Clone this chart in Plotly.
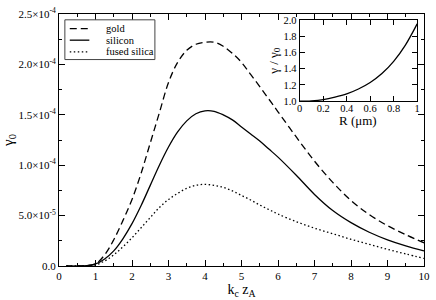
import plotly.graph_objects as go

# ---- data (gamma_0 in units of 1e-4) ----
kz = [0.2, 0.5, 0.75, 1, 1.25, 1.5, 1.75, 2, 2.25, 2.5, 2.75, 3, 3.25, 3.5, 3.75, 4,
      4.25, 4.5, 4.75, 5, 5.25, 5.5, 5.75, 6, 6.5, 7, 7.5, 8, 8.5, 9, 9.5, 10]
gold = [0, 0.0, 0.003, 0.02, 0.11, 0.26, 0.45, 0.66, 0.92, 1.22, 1.52, 1.82, 2.02, 2.14, 2.20, 2.22,
        2.22, 2.18, 2.11, 2.02, 1.90, 1.78, 1.655, 1.53, 1.28, 1.04, 0.83, 0.65, 0.51, 0.40, 0.31, 0.23]
silicon = [0, 0.0, 0.003, 0.02, 0.07, 0.15, 0.27, 0.42, 0.60, 0.80, 1.00, 1.18, 1.33, 1.44, 1.51, 1.54,
           1.535, 1.50, 1.45, 1.38, 1.31, 1.24, 1.16, 1.08, 0.90, 0.71, 0.55, 0.43, 0.335, 0.26, 0.20, 0.15]
fused_silica = [0, 0.0, 0.002, 0.01, 0.05, 0.11, 0.19, 0.28, 0.38, 0.48, 0.58, 0.66, 0.72, 0.77, 0.80, 0.81,
                0.80, 0.78, 0.745, 0.70, 0.655, 0.605, 0.56, 0.515, 0.44, 0.375, 0.32, 0.265, 0.215, 0.165,
                0.12, 0.075]
SCALE = 1e-4

# inset data
R_um = [0, 0.1, 0.2, 0.3, 0.4, 0.5, 0.6, 0.7, 0.8, 0.9, 1.0]
ratio = [1.0, 1.005, 1.02, 1.05, 1.09, 1.15, 1.23, 1.34, 1.49, 1.69, 1.95]

y_tickvals = [0, 0.5, 1.0, 1.5, 2.0, 2.5]
y_ticktext = ["0.0", "5.0×10<sup>-5</sup>", "1.0×10<sup>-4</sup>", "1.5×10<sup>-4</sup>",
              "2.0×10<sup>-4</sup>", "2.5×10<sup>-4</sup>"]

series = [("gold", gold, "7px,4px"), ("silicon", silicon, "solid"), ("fused silica", fused_silica, "1.5px,2.5px")]

FONT = "Liberation Serif, Times New Roman, Times, serif"
W, H = 436, 300
L, R, T, B = 57, 6, 7, 33
PW, PH = W - L - R, H - T - B


def px(xp):
    return (xp - L) / PW


def py(yp):
    return (H - B - yp) / PH


fig = go.Figure()
for name, vals, dash in series:
    fig.add_trace(go.Scatter(x=kz, y=[v * SCALE for v in vals], mode="lines", name=name,
                             line=dict(color="black", width=1.3, dash=dash, shape="spline"),
                             showlegend=False))

fig.add_trace(go.Scatter(x=R_um, y=ratio, mode="lines", xaxis="x2", yaxis="y2",
                         line=dict(color="black", width=1.3, shape="spline"), showlegend=False))

axis_common = dict(showline=True, linecolor="black", linewidth=1, mirror="allticks",
                   ticks="inside", tickcolor="black", showgrid=False, zeroline=False,
                   tickfont=dict(family=FONT, size=11, color="black"))
inset_tickfont = dict(family=FONT, size=10.5, color="black")

fig.update_layout(
    width=W, height=H,
    margin=dict(l=L, r=R, t=T, b=B),
    paper_bgcolor="white", plot_bgcolor="white",
    font=dict(family=FONT, color="black"),
    xaxis=dict(range=[0, 10], tickmode="linear", tick0=0, dtick=1, ticklen=6,
               minor=dict(ticks="inside", ticklen=3, dtick=0.5, tickcolor="black"),
               title=dict(text="k<sub>c</sub> z<sub>A</sub>", font=dict(size=14, family=FONT), standoff=2),
               **axis_common),
    yaxis=dict(range=[0, 2.5 * SCALE], tickmode="array", tickvals=[v * SCALE for v in y_tickvals],
               ticktext=y_ticktext, ticklen=6,
               minor=dict(ticks="inside", ticklen=3, dtick=0.25 * SCALE, tick0=0, tickcolor="black"),
               title=dict(text="γ<sub>0</sub>", font=dict(size=15, family=FONT), standoff=2),
               **axis_common),
    xaxis2=dict(domain=[px(303), px(423)], anchor="y2", range=[0, 1], tickmode="linear", tick0=0,
                dtick=0.2, ticklen=5, ticklabelstandoff=-3,
                **{**axis_common, "tickfont": inset_tickfont}),
    yaxis2=dict(domain=[py(97), py(13)], anchor="x2", range=[1, 2], tickmode="linear", tick0=1,
                dtick=0.2, tickformat=".1f", ticklen=5,
                **{**axis_common, "tickfont": inset_tickfont}),
)

# inset axis titles placed close to the inset frame
fig.add_annotation(xref="paper", yref="paper", x=px(363), y=py(117), text="R (μm)", showarrow=False,
                   xanchor="center", yanchor="middle", borderpad=0,
                   font=dict(family=FONT, size=13, color="black"))
fig.add_annotation(xref="paper", yref="paper", x=px(277), y=py(55), text="γ / γ<sub>0</sub>",
                   showarrow=False, textangle=-90, xanchor="center", yanchor="middle", borderpad=0,
                   font=dict(family=FONT, size=13, color="black"))

# legend drawn as a boxed key
fig.add_shape(type="rect", xref="paper", yref="paper", x0=px(63), x1=px(155), y0=py(54), y1=py(13),
              line=dict(color="#444", width=1), fillcolor="white")
for i, (name, vals, dash) in enumerate(series):
    yy = 22 + 12 * i
    fig.add_shape(type="line", xref="paper", yref="paper", x0=px(68), x1=px(88), y0=py(yy), y1=py(yy),
                  line=dict(color="black", width=1.3, dash=dash))
    fig.add_annotation(xref="paper", yref="paper", x=px(104), y=py(yy), text=name, showarrow=False,
                       xanchor="left", yanchor="middle", borderpad=0,
                       font=dict(family=FONT, size=10.5, color="black"))

fig.write_html("out.html", config={"displayModeBar": False},
               post_script="document.body.style.margin='0px';")
